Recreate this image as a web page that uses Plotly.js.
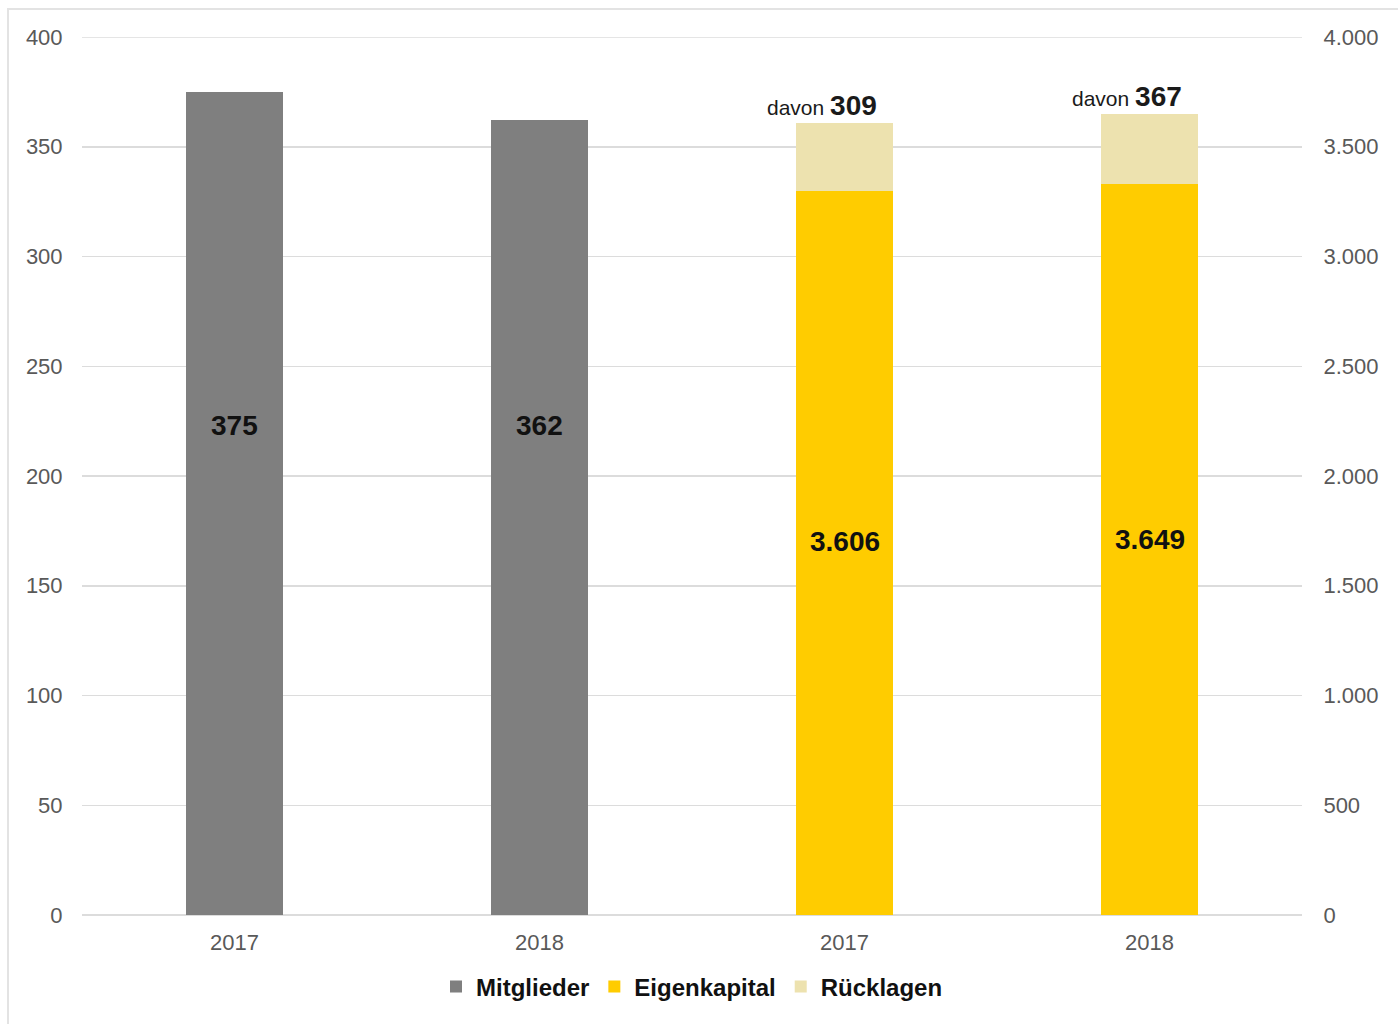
<!DOCTYPE html>
<html>
<head>
<meta charset="utf-8">
<script src="https://cdn.plot.ly/plotly-3.0.1.min.js"></script>
<style>
html,body{margin:0;padding:0;background:#fff;}
#wrap{position:relative;width:1398px;height:1024px;}
#chart{width:1398px;height:1024px;}
#frame{position:absolute;left:7px;top:8px;right:-5px;bottom:-5px;border-left:2px solid #e3e3e3;border-top:2px solid #e3e3e3;pointer-events:none;}
</style>
</head>
<body>
<div id="wrap"><div id="chart"></div><div id="frame"></div></div>
<script>
// Data
const years = ["2017", "2018", "2017", "2018"];
const mitgliederPos = [0, 1];
const kapitalPos = [2, 3];
const mitglieder = [375, 362];
const eigenkapital = [3297, 3332];
const ruecklagen = [309, 317];
const kapitalTotalLabels = ["3.606", "3.649"];
const ruecklagenLabels = ["309", "367"];

const font = "Liberation Sans, Arial, sans-serif";
const barW = 0.315;

const traces = [
  {type:"bar", name:"Mitglieder", x:mitgliederPos, y:mitglieder, yaxis:"y",
   marker:{color:"#7f7f7f"}, width:barW, hoverinfo:"skip"},
  {type:"bar", name:"Eigenkapital", x:kapitalPos, y:eigenkapital, yaxis:"y2",
   marker:{color:"#ffcc00"}, width:barW, hoverinfo:"skip"},
  {type:"bar", name:"Rücklagen", x:kapitalPos, y:ruecklagen, yaxis:"y2",
   marker:{color:"#ede2af"}, width:barW, hoverinfo:"skip"}
];

const annotations = [];
mitglieder.forEach((v, i) => {
  annotations.push({x:mitgliederPos[i], y:223, xref:"x", yref:"y", text:"<b>"+String(v)+"</b>",
    showarrow:false, font:{family:font, size:28, color:"#111"}, yanchor:"middle"});
});
kapitalPos.forEach((p, i) => {
  annotations.push({x:p, y:[1700,1713][i], xref:"x", yref:"y2", text:"<b>"+kapitalTotalLabels[i]+"</b>",
    showarrow:false, font:{family:font, size:28, color:"#111"}, yanchor:"middle"});
  annotations.push({x:p, y:eigenkapital[i]+ruecklagen[i], xref:"x", yref:"y2",
    text:'<span style="font-size:21px">davon </span><b>'+ruecklagenLabels[i]+'</b>',
    showarrow:false, font:{family:font, size:28, color:"#1a1a1a"}, yanchor:"bottom", xshift:-23, yshift:0});
});

const layout = {
  width:1398, height:1024,
  margin:{l:82, r:96, t:37, b:109},
  paper_bgcolor:"#fff", plot_bgcolor:"#fff",
  separators:",.",
  barmode:"stack",
  hovermode:false,
  showlegend:true,
  legend:{orientation:"h", traceorder:"normal", x:0.5, xanchor:"center", y:-0.082, yanchor:"middle",
    font:{family:font, size:24, color:"#111", weight:"bold"}, itemwidth:30},
  xaxis:{range:[-0.5, 3.5], tickvals:[0,1,2,3], ticktext:years, showgrid:false, zeroline:false,
    showline:false, ticks:"outside", ticklen:8, tickcolor:"rgba(0,0,0,0)",
    tickfont:{family:font, size:22, color:"#595959"}},
  yaxis:{range:[0, 400], dtick:50, showgrid:true, gridcolor:"#dcdcdc", gridwidth:1.5,
    zeroline:true, zerolinecolor:"#dcdcdc", zerolinewidth:1.5, showline:false,
    ticks:"outside", ticklen:14, tickcolor:"rgba(0,0,0,0)",
    tickfont:{family:font, size:22, color:"#595959"}},
  yaxis2:{range:[0, 4000], dtick:500, overlaying:"y", side:"right", showgrid:false,
    zeroline:false, showline:false, tickformat:",d",
    ticks:"outside", ticklen:16, tickcolor:"rgba(0,0,0,0)",
    tickfont:{family:font, size:22, color:"#595959"}},
  shapes:[{type:"line", xref:"paper", yref:"y", x0:0, x1:1, y0:400, y1:400,
    line:{color:"#dcdcdc", width:1.5}, layer:"below"}],
  annotations:annotations
};

Plotly.newPlot("chart", traces, layout, {displayModeBar:false, staticPlot:true});
</script>
</body>
</html>
